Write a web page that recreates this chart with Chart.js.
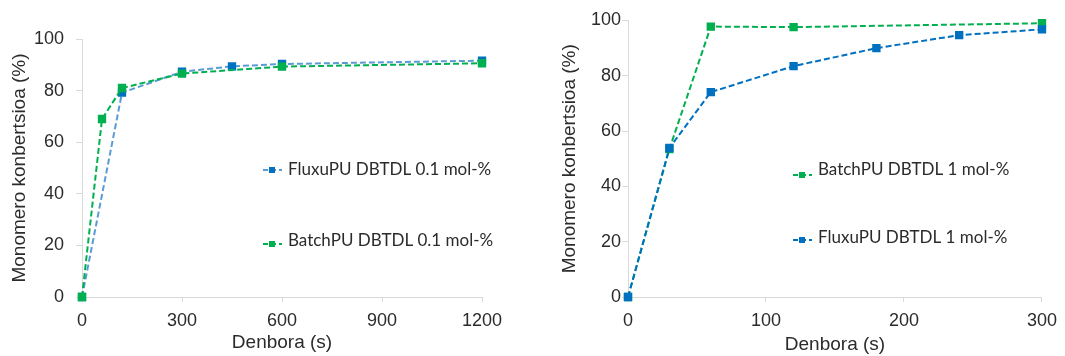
<!DOCTYPE html>
<html>
<head>
<meta charset="utf-8">
<script src="https://cdn.jsdelivr.net/npm/chart.js@4/dist/chart.umd.min.js"></script>
<style>
  body { margin: 0; background: #fff; }
  .box { position: absolute; top: 0; height: 356px; }
  #leftBox { left: 0; width: 540px; }
  #rightBox { left: 540px; width: 525px; }
</style>
</head>
<body>
<div class="box" id="leftBox"><canvas id="leftChart"></canvas></div>
<div class="box" id="rightBox"><canvas id="rightChart"></canvas></div>
<script>
// Ezkerreko grafikoa: 0.1 mol-%
const fluxu01Time = [0, 120, 300, 450, 600, 1200];
const fluxu01Conv = [0, 79.2, 87.3, 89.4, 90.3, 91.6];
const batch01Time = [0, 60, 120, 300, 600, 1200];
const batch01Conv = [0, 69, 81, 86.6, 89.3, 90.6];

// Eskuineko grafikoa: 1 mol-%
const batch1Time = [0, 30, 60, 120, 300];
const batch1Conv = [0, 53.5, 97.8, 97.6, 99];
const fluxu1Time = [0, 30, 60, 120, 180, 240, 300];
const fluxu1Conv = [0, 53.9, 74.1, 83.5, 90, 94.7, 96.8];

const leftTicks = [0, 300, 600, 900, 1200];
const rightTicks = [0, 100, 200, 300];
const yTicks = [0, 20, 40, 60, 80, 100];

const toPoints = (xs, ys) => xs.map((x, i) => ({ x: x, y: ys[i] }));

const green = '#00b050';
const blue = '#0070c0';
const textColor = '#2b2b2b';
const axisColor = '#d9d9d9';
const axisFont = "'Liberation Sans', Arial, sans-serif";

// legenda grafikoaren barruan marrazteko
const insideLegend = {
    id: 'insideLegend',
    afterDraw(chart, args, opts) {
        const ctx = chart.ctx;
        ctx.save();
        ctx.font = opts.font;
        ctx.textBaseline = 'middle';
        opts.items.forEach(item => {
            const ds = chart.data.datasets[item.index];
            const my = item.y + item.dy;
            ctx.strokeStyle = ds.borderColor;
            ctx.lineWidth = ds.borderWidth;
            ctx.setLineDash([5, 3]);
            ctx.beginPath();
            ctx.moveTo(item.x - 9, my);
            ctx.lineTo(item.x + 10, my);
            ctx.stroke();
            ctx.setLineDash([]);
            ctx.fillStyle = ds.pointBackgroundColor;
            ctx.fillRect(item.x - 3, my - 3, 6, 6);
            ctx.fillStyle = textColor;
            ctx.fillText(ds.label, item.x + 16, item.y);
        });
        ctx.restore();
    }
};

function lineSet(label, points, lineColor, markColor, order) {
    return {
        label: label,
        data: points,
        order: order,
        borderColor: lineColor,
        backgroundColor: markColor,
        pointBackgroundColor: markColor,
        pointBorderColor: markColor,
        pointStyle: 'rect',
        pointRadius: 4.5,
        borderWidth: 2,
        borderDash: [6, 3],
        tension: 0,
        clip: false
    };
}

function makeOptions(xMax, xTickValues, cfg) {
    return {
        responsive: true,
        maintainAspectRatio: false,
        animation: false,
        layout: { padding: cfg.padding },
        plugins: {
            legend: { display: false },
            tooltip: { enabled: false },
            insideLegend: cfg.legend
        },
        scales: {
            x: {
                type: 'linear',
                min: 0,
                max: xMax,
                afterBuildTicks: s => { s.ticks = xTickValues.map(v => ({ value: v })); },
                afterFit: s => { s.height = 59; },
                grid: { display: true, drawOnChartArea: false, drawTicks: true, tickLength: 5, color: axisColor },
                border: { color: axisColor, width: 1 },
                ticks: { color: textColor, font: { family: axisFont, size: 18 }, padding: cfg.xTickPad, maxRotation: 0, callback: v => String(v) },
                title: { display: true, text: 'Denbora (s)', color: textColor, font: { family: axisFont, size: 19 }, padding: { top: 0, bottom: cfg.xTitlePad } }
            },
            y: {
                min: 0,
                max: 100,
                afterBuildTicks: s => { s.ticks = yTicks.map(v => ({ value: v })); },
                afterFit: s => { s.width = cfg.yWidth; },
                grid: { display: true, drawOnChartArea: false, drawTicks: true, tickLength: 6, color: axisColor },
                border: { color: axisColor, width: 1 },
                ticks: { color: textColor, font: { family: axisFont, size: 18 }, padding: cfg.yTickPad },
                title: { display: true, text: 'Monomero konbertsioa (%)', color: textColor, font: { family: axisFont, size: 19 }, padding: { top: cfg.yTitlePad, bottom: 0 } }
            }
        }
    };
}

new Chart(document.getElementById('leftChart'), {
    type: 'line',
    data: {
        datasets: [
            lineSet('FluxuPU DBTDL 0.1 mol-%', toPoints(fluxu01Time, fluxu01Conv), '#5b9bd5', blue, 1),
            lineSet('BatchPU DBTDL 0.1 mol-%', toPoints(batch01Time, batch01Conv), green, green, 0)
        ]
    },
    options: makeOptions(1200, leftTicks, {
        padding: { left: 0, right: 58, top: 39, bottom: 0 },
        xTickPad: 8, xTitlePad: 1.5, yWidth: 82, yTickPad: 12, yTitlePad: 8.5,
        legend: {
            font: '17px Lato',
            items: [ { index: 0, x: 272, y: 170, dy: 0 }, { index: 1, x: 272, y: 241, dy: 3 } ]
        }
    }),
    plugins: [insideLegend]
});

new Chart(document.getElementById('rightChart'), {
    type: 'line',
    data: {
        datasets: [
            lineSet('BatchPU DBTDL 1 mol-%', toPoints(batch1Time, batch1Conv), green, green, 1),
            lineSet('FluxuPU DBTDL 1 mol-%', toPoints(fluxu1Time, fluxu1Conv), blue, blue, 0)
        ]
    },
    options: makeOptions(300, rightTicks, {
        padding: { left: 0, right: 17, top: 20.5, bottom: 0 },
        xTickPad: 8, xTitlePad: 0, yWidth: 88, yTickPad: 1, yTitlePad: 18.5,
        legend: {
            font: '17px Lato',
            items: [ { index: 0, x: 262, y: 170, dy: 5 }, { index: 1, x: 262, y: 238, dy: 2 } ]
        }
    }),
    plugins: [insideLegend]
});
</script>
</body>
</html>
